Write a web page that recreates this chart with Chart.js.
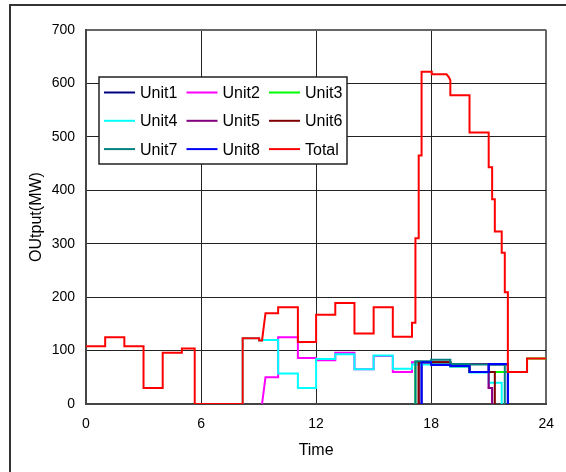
<!DOCTYPE html>
<html>
<head>
<meta charset="utf-8">
<script src="https://cdn.jsdelivr.net/npm/chart.js@4.4.1/dist/chart.umd.min.js"></script>
<style>
  html, body { margin: 0; padding: 0; background: #fff; }
  canvas { display: block; }
</style>
</head>
<body>
<canvas id="chart" width="566" height="472"></canvas>
<script>
// tick labels
const xTicks = [0, 6, 12, 18, 24];
const yTicks = [0, 100, 200, 300, 400, 500, 600, 700];

// [time, MW] corner points
const total = [[0,108],[1,108],[1,125],[2,125],[2,108],[3,108],[3,30],[4,30],[4,96],[5,96],[5,104],[5.67,104],
  [5.67,0],[8.17,0],[8.17,123],[9.03,123],[9.03,119],[9.18,119],[9.36,170],[10.02,170],[10.02,181],[11.05,181],
  [11.05,116],[12,116],[12,167],[13,167],[13,189],[14,189],[14,132],[15,132],[15,181],[16,181],[16,126],[17,126],
  [17,152],[17.18,152],[17.18,310],[17.35,310],[17.35,465],[17.5,465],[17.5,622],[18.03,622],[18.03,617],
  [18.8,617],[18.92,612],[19,606],[19,578],[20,578],[20,508],[21,508],[21,443],[21.18,443],[21.18,383],
  [21.32,383],[21.32,323],[21.68,323],[21.68,283],[21.84,283],[21.84,209],[22,209],[22,60],[23,60],[23,85],[24,85]];
const unit1 = [[17.5,0],[17.5,78],[18,78],[18,77],[19,77],[19,72],[20,72],[20,60],[21,60],[21,74],[22,74],[22,0]];
const unit2 = [[9.18,0],[9.36,50],[10.02,50],[10.02,125],[11.05,125],[11.05,86],[12,86],[12,82],[13,82],[13,96],
  [14,96],[14,65],[15,65],[15,90],[16,90],[16,60],[17,60],[17,78],[18,78],[18,76],[19,76],[19,70],[20,70],
  [20,60],[21,60],[21,30],[21.18,30],[21.18,0]];
const unit3 = [[17.18,0],[17.18,78],[18,78],[18,76],[19,76],[19,70],[20,70],[20,60],[23,60],[23,85],[24,85]];
const unit4 = [[8.17,0],[8.17,123],[9.03,123],[9.03,119],[9.18,119],[9.18,120],[10.02,120],[10.02,57],[11.05,57],
  [11.05,30],[12,30],[12,84],[13,84],[13,93],[14,93],[14,65],[15,65],[15,91],[16,91],[16,66],[17,66],[17,74],
  [18,74],[18,76],[19,76],[19,70],[20,70],[20,59],[21,59],[21,40],[21.68,40],[21.68,0]];
const unit5 = [[17.35,0],[17.35,78],[19,78],[19,75],[21,75],[21,30],[21.18,30],[21.18,0]];
const unit6 = [[17.35,0],[17.35,78],[19,78],[19,75],[20,75],[20,60],[21.32,60],[21.32,0]];
const unit7 = [[17.18,0],[17.18,80],[18,80],[18,83],[19,83],[19,75],[20,75],[20,74],[21.84,74],[21.84,0]];
const unit8 = [[17.5,0],[17.5,78],[18,78],[18,73],[19,73],[19,71],[20,71],[20,60],[21,60],[21,75],[22,75],[22,0]];

const series = [
  { label: 'Unit1', pts: unit1, color: '#000080' },
  { label: 'Unit2', pts: unit2, color: '#ff00ff' },
  { label: 'Unit3', pts: unit3, color: '#00ff00' },
  { label: 'Unit4', pts: unit4, color: '#00ffff' },
  { label: 'Unit5', pts: unit5, color: '#800080' },
  { label: 'Unit6', pts: unit6, color: '#800000' },
  { label: 'Unit7', pts: unit7, color: '#008080' },
  { label: 'Unit8', pts: unit8, color: '#0000ff' },
  { label: 'Total', pts: total, color: '#ff0000' }
];

const FONT = '"Liberation Sans", Arial, sans-serif';

// white page with the outer frame
const framePlugin = {
  id: 'frame',
  beforeDraw(chart) {
    const c = chart.ctx;
    c.save();
    c.fillStyle = '#fff';
    c.fillRect(0, 0, chart.width, chart.height);
    c.strokeStyle = '#333';
    c.lineWidth = 2;
    c.strokeRect(10, 5, chart.width + 20, chart.height + 20);
    c.restore();
  }
};

// boxed legend inside the plot, 3 columns
const boxLegend = {
  id: 'boxLegend',
  afterDraw(chart) {
    const c = chart.ctx, a = chart.chartArea;
    const x0 = a.left + 13, y0 = a.top + 47;
    c.save();
    c.fillStyle = '#fff';
    c.fillRect(x0, y0, 248, 87);
    c.strokeStyle = '#222';
    c.lineWidth = 1.5;
    c.strokeRect(x0, y0, 248, 87);
    c.font = '16px ' + FONT;
    c.textBaseline = 'middle';
    series.forEach((s, i) => {
      const col = i % 3, row = Math.floor(i / 3);
      const lx = x0 + 5 + col * 82.5, ly = y0 + 15.5 + row * 28.3;
      c.strokeStyle = s.color;
      c.lineWidth = 2;
      c.beginPath();
      c.moveTo(lx, ly);
      c.lineTo(lx + 31, ly);
      c.stroke();
      c.fillStyle = '#000';
      c.fillText(s.label, lx + 36, ly + 1);
    });
    c.restore();
  }
};

new Chart(document.getElementById('chart'), {
  type: 'line',
  data: {
    datasets: series.map((s, i) => ({
      label: s.label,
      data: s.pts.map(p => ({ x: p[0], y: p[1] })),
      borderColor: s.color,
      backgroundColor: s.color,
      borderWidth: 2,
      pointRadius: 0,
      tension: 0,
      fill: false,
      order: series.length - 1 - i
    }))
  },
  options: {
    responsive: false,
    animation: false,
    devicePixelRatio: 1,
    events: [],
    layout: { padding: { left: 0, right: 19, top: 30, bottom: 0 } },
    plugins: { legend: { display: false }, tooltip: { enabled: false } },
    scales: {
      x: {
        type: 'linear',
        min: 0, max: 24,
        afterBuildTicks: s => { s.ticks = xTicks.map(v => ({ value: v })); },
        afterFit: s => { s.height = 68; },
        grid: {
          color: ctx => ctx.tick && ctx.tick.value === 24 ? '#666' : '#222',
          lineWidth: ctx => ctx.tick && ctx.tick.value === 24 ? 2 : 1,
          drawTicks: false
        },
        border: { color: '#444', width: 2 },
        ticks: { color: '#000', padding: 12, maxRotation: 0, font: { family: FONT, size: 14 } },
        title: { display: true, text: 'Time', color: '#000', font: { family: FONT, size: 16 }, padding: { top: 0, bottom: 12 } }
      },
      y: {
        min: 0, max: 700,
        afterBuildTicks: s => { s.ticks = yTicks.map(v => ({ value: v })); },
        afterFit: s => { s.width = 86; },
        grid: {
          color: ctx => ctx.tick && ctx.tick.value === 700 ? '#666' : '#222',
          lineWidth: ctx => ctx.tick && ctx.tick.value === 700 ? 2 : 1,
          drawTicks: false
        },
        border: { color: '#444', width: 2 },
        ticks: { color: '#000', padding: 11, font: { family: FONT, size: 14 } },
        title: { display: true, text: 'OUtput(MW)', color: '#000', font: { family: FONT, size: 16 }, padding: { top: 27, bottom: 0 } }
      }
    }
  },
  plugins: [framePlugin, boxLegend]
});
</script>
</body>
</html>
